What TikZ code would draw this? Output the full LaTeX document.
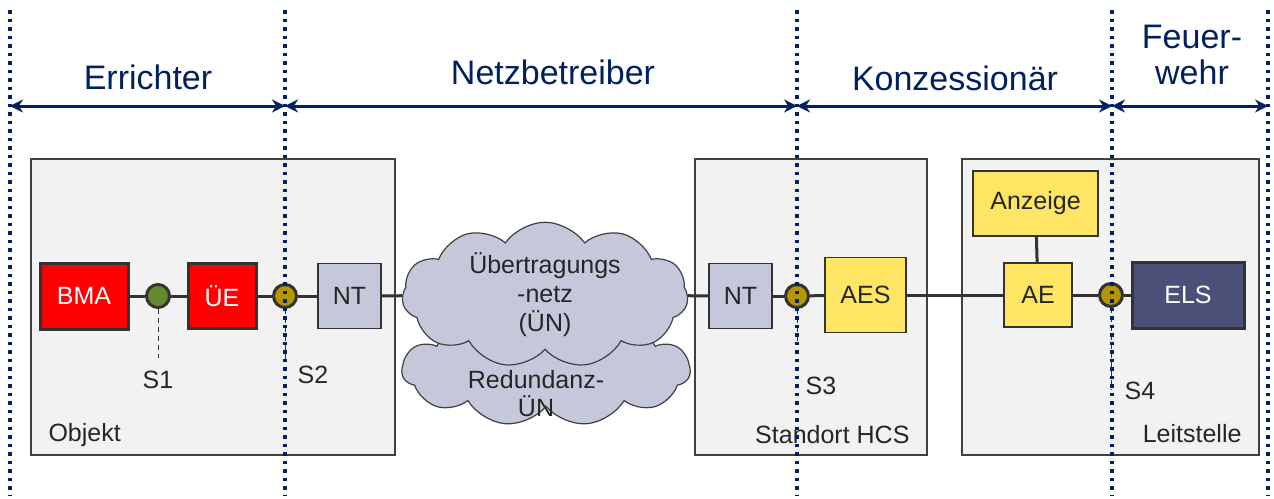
\documentclass[tikz,border=0pt]{standalone}
\usepackage{fontspec}
\setmainfont{Liberation Sans}
\usepackage{xcolor}
\usepackage{tikz}
\usetikzlibrary{arrows.meta}
\usetikzlibrary{shapes.symbols}

\definecolor{navy}{RGB}{0,32,96}
\definecolor{edge}{RGB}{51,51,51}
\definecolor{boxgrey}{RGB}{242,242,242}
\definecolor{bmared}{RGB}{255,0,0}
\definecolor{ntblue}{RGB}{197,200,218}
\definecolor{aeyellow}{RGB}{255,229,100}
\definecolor{elsblue}{RGB}{75,80,121}
\definecolor{sgreen}{RGB}{102,138,46}
\definecolor{sgold}{RGB}{179,149,0}

\begin{document}
\begin{tikzpicture}[x=1pt,y=-1pt,
    txt/.style={font=\fontsize{25}{30}\selectfont, text=black!85},
    title/.style={font=\fontsize{34}{36}\selectfont, text=navy, align=center},
    area/.style={draw=black!75, line width=1.5pt, fill=boxgrey},
    unit/.style={txt, draw=edge, line width=1.5pt, inner sep=0pt},
    alarm/.style={unit, fill=bmared, line width=3pt, text=white},
    term/.style={unit, fill=ntblue},
    recv/.style={unit, fill=aeyellow},
    iface/.style={circle, draw=edge, line width=3pt, minimum size=23pt, inner sep=0pt},
    net/.style={cloud, cloud puffs=11, cloud puff arc=110, cloud ignores aspect,
        draw=black!75, line width=1.2pt, fill=ntblue, txt, align=center, inner sep=0pt},
    link/.style={draw=edge, line width=3pt},
    probe/.style={draw=edge, line width=1pt, dash pattern=on 5pt off 4pt},
    limit/.style={draw=navy, line width=3.5pt, dash pattern=on 3.5pt off 5pt},
    span/.style={draw=navy, line width=3pt, {Stealth[length=13pt,width=13pt]}-{Stealth[length=13pt,width=13pt]}}]

    \useasboundingbox (0,0) rectangle (1274,498);

    % Draw areas
    \draw[area] (31,159) rectangle (395,455);
    \draw[area] (695,159) rectangle (927,455);
    \draw[area] (962,159) rectangle (1259,455);
    \node[txt, anchor=west] (objekt) at (45,435) {Objekt};
    \node[txt, anchor=east] (hcs) at (913,435) {Standort HCS};
    \node[txt, anchor=east] (leit) at (1245,434) {Leitstelle};

    % Draw networks
    \node[net, minimum width=288pt, minimum height=112pt] (red) at (546,370) {};
    \node[net, minimum width=286pt, minimum height=118pt] (uen) at (545,295)
        {Übertragungs\\[-1pt]-netz\\[-1pt](ÜN)};
    \node[txt, align=center] (red-text) at (536,394) {Redundanz-\\[-2pt]ÜN};

    % Draw units
    \node[alarm, minimum width=88pt, minimum height=66pt] (bma) at (84,296) {BMA};
    \node[iface, fill=sgreen] (s1) at (158,296) {};
    \node[alarm, minimum width=68pt, minimum height=65pt] (ue) at (222,296) {ÜE};
    \node[iface, fill=sgold] (s2) at (285,296) {};
    \node[term, minimum width=63pt, minimum height=65pt] (nt-1) at (349.5,296) {NT};
    \node[term, minimum width=63pt, minimum height=65pt] (nt-2) at (740.5,296) {NT};
    \node[iface, fill=sgold] (s3) at (797,296) {};
    \node[recv, minimum width=81pt, minimum height=75pt] (aes) at (865.5,295) {AES};
    \node[recv, minimum width=125pt, minimum height=65pt] (anz) at (1035.5,203.5) {Anzeige};
    \node[recv, minimum width=68pt, minimum height=64pt] (ae) at (1038,295) {AE};
    \node[iface, fill=sgold] (s4) at (1111,295) {};
    \node[alarm, fill=elsblue, minimum width=112pt, minimum height=66pt] (els) at (1188,295) {ELS};

    % Draw links
    \def \drawlink#1#2{\draw[link] (#1) -- (#2);}
    \drawlink{bma}{s1} \drawlink{s1}{ue} \drawlink{ue}{s2} \drawlink{s2}{nt-1}
    \drawlink{nt-1}{uen} \drawlink{uen}{nt-2} \drawlink{nt-2}{s3} \drawlink{s3}{aes}
    \drawlink{aes}{ae} \drawlink{ae}{s4} \drawlink{s4}{els}
    \draw[link] (anz) -- (ae);

    % Draw interface labels
    \coordinate (s1-end) at (158,358);
    \coordinate (s2-end) at (285,360);
    \coordinate (s3-end) at (797,345);
    \coordinate (s4-end) at (1111,390);
    \foreach \s in {1,...,4} {
        \draw[probe] (s\s.south) -- (s\s-end);
    }
    \node[txt] (lab-s1) at (158,380) {S1};
    \node[txt] (lab-s2) at (313,375) {S2};
    \node[txt] (lab-s3) at (821,386) {S3};
    \node[txt] (lab-s4) at (1140,391) {S4};

    % Draw borders
    \foreach \x [count=\i] in {10,285,797,1112,1268} {
        \coordinate (top-\i) at (\x,10);
        \coordinate (bot-\i) at (\x,495);
        \coordinate (mid-\i) at (\x,106);
        \draw[limit] (top-\i) -- (bot-\i);
    }
    \draw[span] (mid-1) -- (mid-2);
    \draw[span] (mid-2) -- (mid-3);
    \draw[span] (mid-3) -- (mid-4);
    \draw[span] (mid-4) -- (mid-5);
    \node[title] (errichter) at (148,77) {Errichter};
    \node[title] (betreiber) at (553,72) {Netzbetreiber};
    \node[title] (konz) at (955,78) {Konzessionär};
    \node[title] (wehr) at (1192,55) {Feuer-\\wehr};

\end{tikzpicture}
\end{document}
